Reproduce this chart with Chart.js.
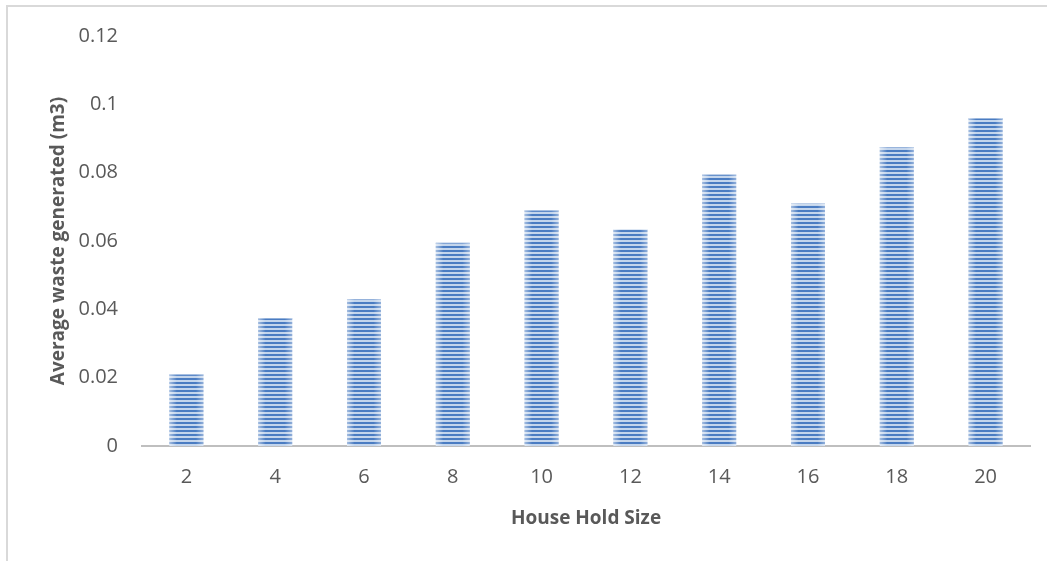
<!DOCTYPE html>
<html>
<head>
<meta charset="utf-8">
<script src="https://cdn.jsdelivr.net/npm/chart.js@4.4.0/dist/chart.umd.min.js"></script>
<style>
  html, body { margin: 0; padding: 0; background: #fff; }
  #wrap { position: relative; width: 1047px; height: 561px; overflow: hidden; }
  #frame { position: absolute; left: 6px; top: 5px; width: 1100px; height: 600px;
           border-left: 2px solid #d9d9d9; border-top: 2px solid #d9d9d9; box-sizing: border-box; }
  canvas { position: absolute; left: 0; top: 0; }
</style>
</head>
<body>
<div id="wrap">
  <div id="frame"></div>
  <canvas id="c" width="1047" height="561"></canvas>
</div>
<script>
// Household size vs. average waste generated
const householdSizes = ['2', '4', '6', '8', '10', '12', '14', '16', '18', '20'];
const avgWaste = [0.021, 0.0375, 0.043, 0.0595, 0.069, 0.0635, 0.0795, 0.071, 0.0875, 0.096];
const yTicks = [0, 0.02, 0.04, 0.06, 0.08, 0.1, 0.12];

const textColor = '#595959';
const fontFamily = '"Open Sans", "Liberation Sans", sans-serif';

// Horizontal stripe fill for the bars
function stripePattern() {
  const p = document.createElement('canvas');
  p.width = 4; p.height = 4;
  const g = p.getContext('2d');
  g.fillStyle = '#c3d5ec';
  g.fillRect(0, 0, 4, 4);
  g.fillStyle = '#4a7cc2';
  g.fillRect(0, 2, 4, 2);
  return g.createPattern(p, 'repeat');
}

// Soft light shading along the left/right edges of each bar
const barShading = {
  id: 'barShading',
  afterDatasetsDraw(chart) {
    const ctx = chart.ctx;
    chart.getDatasetMeta(0).data.forEach(bar => {
      const left = bar.x - bar.width / 2, right = bar.x + bar.width / 2;
      const grad = ctx.createLinearGradient(left, 0, right, 0);
      grad.addColorStop(0, 'rgba(255,255,255,0.5)');
      grad.addColorStop(0.22, 'rgba(255,255,255,0)');
      grad.addColorStop(0.78, 'rgba(255,255,255,0)');
      grad.addColorStop(1, 'rgba(255,255,255,0.4)');
      ctx.save();
      ctx.fillStyle = grad;
      ctx.fillRect(left, bar.y, bar.width, bar.base - bar.y);
      ctx.fillStyle = 'rgba(255,255,255,0.45)';
      ctx.fillRect(left, bar.y, bar.width, 1);
      ctx.restore();
    });
  }
};

new Chart(document.getElementById('c'), {
  type: 'bar',
  data: {
    labels: householdSizes,
    datasets: [{
      data: avgWaste,
      backgroundColor: stripePattern(),
      borderWidth: 0,
      barPercentage: 0.383,
      categoryPercentage: 1.0
    }]
  },
  options: {
    responsive: false,
    animation: false,
    events: [],
    layout: { padding: { left: 0, right: 17, top: 35, bottom: 0 } },
    plugins: { legend: { display: false }, tooltip: { enabled: false } },
    scales: {
      x: {
        grid: { display: false, drawTicks: false },
        border: { display: true, color: '#bfbfbf', width: 2 },
        ticks: { color: textColor, font: { family: fontFamily, size: 20 }, padding: 19 },
        title: {
          display: true, text: 'House Hold Size', color: textColor,
          font: { family: fontFamily, size: 19, weight: 'bold' }, padding: { top: 4, bottom: 31 }
        },
        afterFit(scale) { scale.height = 115; }
      },
      y: {
        min: 0, max: 0.12,
        afterBuildTicks(scale) { scale.ticks = yTicks.map(v => ({ value: v })); },
        grid: { display: false, drawTicks: false },
        border: { display: false },
        ticks: {
          color: textColor, font: { family: fontFamily, size: 20 }, padding: 24,
          callback: v => String(v)
        },
        title: {
          display: true, text: 'Average waste generated (m3)', color: textColor,
          font: { family: fontFamily, size: 19, weight: 'bold' }, padding: { top: 47, bottom: 0 }
        },
        afterFit(scale) { scale.width = 142; }
      }
    }
  },
  plugins: [barShading]
});
</script>
</body>
</html>
